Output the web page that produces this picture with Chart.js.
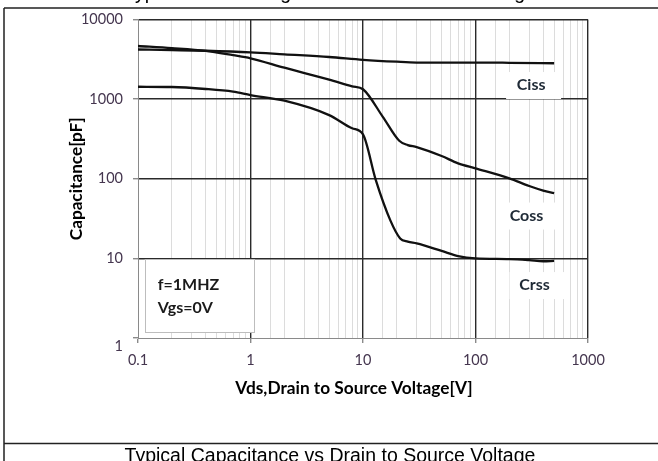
<!DOCTYPE html>
<html><head><meta charset="utf-8">
<script src="https://cdn.jsdelivr.net/npm/chart.js@4.4.1/dist/chart.umd.min.js"></script>
<style>html,body{margin:0;padding:0;background:#fff;overflow:hidden}#wrap{width:658px;height:461px;position:relative}</style>
</head><body><div id="wrap"><canvas id="c" width="658" height="461"></canvas></div>
<script>
// ---- data ----
const vdsCiss = [0.1, 0.2, 0.4, 1, 2, 5, 10, 20, 30, 50, 100, 200, 500];
const ciss    = [4200, 4130, 4050, 3870, 3650, 3380, 3120, 2950, 2880, 2870, 2880, 2860, 2820];
const vdsCoss = [0.1, 0.2, 0.4, 0.7, 1, 2, 5, 8, 10, 15, 21, 25, 30, 50, 70, 100, 200, 300, 400, 500];
const coss    = [4650, 4370, 4030, 3560, 3260, 2480, 1760, 1450, 1330, 600, 300, 265, 250, 193, 156, 135, 101, 81, 71, 66];
const vdsCrss = [0.1, 0.2, 0.4, 0.7, 1, 2, 5, 8, 10, 13, 17.5, 21.4, 25, 30, 50, 70, 100, 200, 300, 400, 500];
const crss    = [1430, 1420, 1340, 1240, 1125, 955, 630, 430, 360, 96, 30, 17.8, 16.2, 15.4, 12.4, 10.7, 10, 9.8, 9.5, 9.2, 9.3];
const xTickLabels = ['0.1', '1', '10', '100', '1000'];
const yTickLabels = ['1', '10', '100', '1000', '10000'];
const curveNames = ['Ciss', 'Coss', 'Crss'];
const curveNameX = [312, 284, 335];      // Vds where each name sits
const curveNameY = [1503, 34.5, 4.62];   // capacitance where each name sits
const conditionLines = ['f=1MHZ', 'Vgs=0V'];
const xTitle = 'Vds,Drain to Source Voltage[V]';
const yTitle = 'Capacitance[pF]';
const captionTop = 'Typical Gate Charge vs Gate-to-Source Voltage';
const captionBottom = 'Typical Capacitance vs Drain to Source Voltage';

Chart.defaults.font.family = 'Lato';
const isDecade = v => Math.abs(Math.log10(v) - Math.round(Math.log10(v))) < 1e-6;
const fmt = v => String(+v.toPrecision(6));

const framePlugin = {
  id: 'frame',
  beforeDraw(chart) {
    const ctx = chart.ctx;
    ctx.save();
    ctx.fillStyle = '#fff';
    ctx.fillRect(0, 0, chart.width, chart.height);
    ctx.strokeStyle = '#222';
    ctx.lineWidth = 1.5;
    ctx.beginPath();
    ctx.moveTo(4, 8); ctx.lineTo(4, 461);
    ctx.moveTo(4, 8); ctx.lineTo(658, 8);
    ctx.moveTo(4, 443.5); ctx.lineTo(658, 443.5);
    ctx.stroke();
    ctx.fillStyle = '#000';
    ctx.font = '19.5px "Liberation Sans", Arial, sans-serif';
    ctx.textAlign = 'center';
    ctx.textBaseline = 'alphabetic';
    ctx.fillText(captionTop, 330, -1);
    ctx.fillText(captionBottom, 330, 462);
    ctx.restore();
  },
  afterDraw(chart) {
    const {ctx, scales: {x}} = chart;
    ctx.save();
    ctx.fillStyle = '#000';
    ctx.font = 'bold 17.3px Lato';
    ctx.textAlign = 'center';
    ctx.textBaseline = 'middle';
    ctx.fillText(xTitle, (x.left + x.right) / 2 - 9, 388);
    ctx.restore();
  }
};

const annoPlugin = {
  id: 'anno',
  afterDatasetsDraw(chart) {
    const {ctx, scales: {x, y}} = chart;
    ctx.save();
    ctx.font = 'bold 16px Lato';
    ctx.textAlign = 'center';
    ctx.textBaseline = 'middle';
    curveNames.forEach((t, i) => {
      const px = x.getPixelForValue(curveNameX[i]);
      const py = y.getPixelForValue(curveNameY[i]);
      ctx.fillStyle = '#fff';
      ctx.fillRect(px - 25, py - 13, 55, 27);
      ctx.fillStyle = '#1f2a36';
      ctx.fillText(t, px, py);
    });
    // conditions box
    const bx0 = x.getPixelForValue(0.115), bx1 = x.getPixelForValue(1.063);
    const by0 = y.getPixelForValue(9.8), by1 = y.getPixelForValue(1.19);
    ctx.fillStyle = '#fff';
    ctx.fillRect(bx0, by0, bx1 - bx0, by1 - by0);
    ctx.strokeStyle = '#bdbdbd';
    ctx.lineWidth = 1;
    ctx.strokeRect(Math.round(bx0) + 0.5, Math.round(by0) + 0.5, Math.round(bx1 - bx0), Math.round(by1 - by0));
    ctx.fillStyle = '#1a1a1a';
    ctx.textAlign = 'left';
    conditionLines.forEach((t, i) => ctx.fillText(t, bx0 + 13, by0 + 26 + i * 23));
    ctx.restore();
  }
};

const mk = (xs, ys) => xs.map((v, i) => ({x: v, y: ys[i]}));
const lineStyle = {borderColor: '#111', borderWidth: 2.3, pointRadius: 0, fill: false, cubicInterpolationMode: 'monotone'};

new Chart(document.getElementById('c'), {
  type: 'line',
  data: {
    datasets: [
      Object.assign({label: curveNames[0], data: mk(vdsCiss, ciss)}, lineStyle),
      Object.assign({label: curveNames[1], data: mk(vdsCoss, coss)}, lineStyle),
      Object.assign({label: curveNames[2], data: mk(vdsCrss, crss)}, lineStyle)
    ]
  },
  options: {
    responsive: false,
    animation: false,
    devicePixelRatio: 1,
    layout: {padding: {left: 0, right: 70, top: 19.5, bottom: 0}},
    plugins: {legend: {display: false}, tooltip: {enabled: false}},
    scales: {
      x: {
        type: 'logarithmic', min: 0.1, max: 1000,
        afterFit(s) { s.height = 123; },
        border: {display: true, color: '#8a8a8a', width: 1},
        grid: {
          color: c => { const v = c.tick && c.tick.value; if (v === undefined) return '#d9d9d9'; if (Math.abs(v - 0.1) < 1e-9) return 'rgba(0,0,0,0)'; return isDecade(v) ? '#2a2a2a' : '#dcdcdc'; },
          lineWidth: c => (c.tick && isDecade(c.tick.value)) ? 1.4 : 1,
          tickColor: c => (c.tick && isDecade(c.tick.value)) ? '#8a8a8a' : 'rgba(0,0,0,0)',
          tickLength: 5,
          drawTicks: true
        },
        ticks: {
          autoSkip: false, maxRotation: 0, padding: 9,
          color: '#45364f', font: {size: 14.5},
          callback: v => { if (!isDecade(v)) return ''; const s = fmt(v); return xTickLabels.includes(s) ? s : ''; }
        },
        title: {display: false, text: xTitle}
      },
      y: {
        type: 'logarithmic', min: 1, max: 10000,
        afterFit(s) { s.width = 138; },
        border: {display: true, color: '#8a8a8a', width: 1},
        grid: {
          color: c => { const v = c.tick && c.tick.value; if (v === undefined) return 'rgba(0,0,0,0)'; if (Math.abs(v - 1) < 1e-9) return 'rgba(0,0,0,0)'; return isDecade(v) ? '#2a2a2a' : 'rgba(0,0,0,0)'; },
          lineWidth: c => (c.tick && isDecade(c.tick.value)) ? 1.4 : 1,
          tickColor: c => (c.tick && isDecade(c.tick.value)) ? '#8a8a8a' : 'rgba(0,0,0,0)',
          tickLength: 5,
          drawTicks: true
        },
        ticks: {
          autoSkip: false, padding: 10,
          color: '#45364f', font: {size: 14.5},
          callback: v => { if (!isDecade(v)) return ''; const s = fmt(v); if (!yTickLabels.includes(s)) return ''; return s === yTickLabels[0] ? ['', s] : s; }
        },
        title: {display: true, text: yTitle, color: '#000', font: {size: 17.2, weight: 'bold'}, padding: {top: 66, bottom: 0}}
      }
    }
  },
  plugins: [framePlugin, annoPlugin]
});
</script>
</body></html>
